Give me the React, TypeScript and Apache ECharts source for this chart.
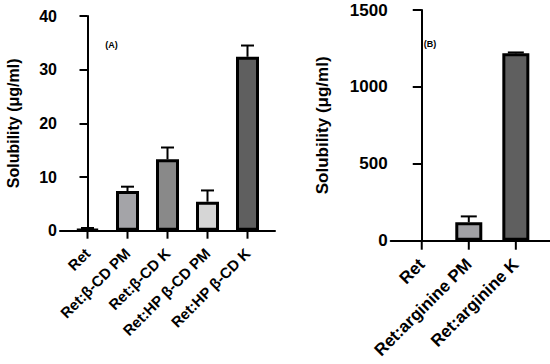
import React, { useEffect, useRef } from "react";
import * as echarts from "echarts";

const categoriesA = ["Ret", "Ret:β-CD PM", "Ret:β-CD K", "Ret:HP β-CD PM", "Ret:HP β-CD K"];
const valuesA = [0.3, 7.4, 13.3, 5.4, 32.4];
const errorsA = [0.2, 0.8, 2.2, 2.1, 2.1];
const colorsA = ["#8a8a8a", "#a4a4a8", "#898989", "#d6d6d6", "#5f5f5f"];

const categoriesB = ["Ret", "Ret:arginine PM", "Ret:arginine K"];
const valuesB = [0, 120, 1218];
const errorsB = [0, 38, 6];
const colorsB = ["#a0a0a0", "#a0a0a4", "#5f5f5f"];

const ticksA = [0, 10, 20, 30, 40];
const ticksB = [0, 500, 1000, 1500];

const FONT = "'Liberation Sans', Arial, Helvetica, sans-serif";

function errorRender(capHalf: number, tickLen: number) {
  return (params: any, api: any) => {
    const x = api.value(0);
    const v = api.value(1);
    const e = api.value(2);
    const style = { stroke: "#000", lineWidth: 2, fill: "none" };
    const base = api.coord([x, 0]);
    const children: any[] = [
      { type: "line", shape: { x1: base[0], y1: base[1], x2: base[0], y2: base[1] + tickLen }, style },
    ];
    if (e) {
      const p0 = api.coord([x, v]);
      const p1 = api.coord([x, v + e]);
      children.push(
        { type: "line", shape: { x1: p0[0], y1: p0[1], x2: p1[0], y2: p1[1] }, style },
        { type: "line", shape: { x1: p1[0] - capHalf, y1: p1[1], x2: p1[0] + capHalf, y2: p1[1] }, style }
      );
    }
    return { type: "group", children };
  };
}

export default function App() {
  const ref = useRef<HTMLDivElement>(null);
  useEffect(() => {
    if (!ref.current) return;
    const chart = echarts.init(ref.current, null, { renderer: "svg" });
    const idxA = categoriesA.map((_, i) => i);
    const idxB = categoriesB.map((_, i) => i);
    const axisLine = { show: true, lineStyle: { color: "#000", width: 2 } };
    const tickStyle = { color: "#000", width: 2 };
    chart.setOption({
      animation: false,
      backgroundColor: "#fff",
      grid: [
        { left: 60, top: 16, width: 215, height: 214.7 },
        { left: 390.7, top: 10, width: 159, height: 230.7 },
      ],
      xAxis: [
        {
          type: "value",
          gridIndex: 0,
          min: -0.6875,
          max: 4.6875,
          axisLine: { ...axisLine, onZero: false },
          splitLine: { show: false },
          axisTick: { show: false },
          axisLabel: {
            customValues: idxA,
            formatter: (v: number) => categoriesA[Math.round(v)] ?? "",
            rotate: 45,
            margin: 20,
            color: "#000",
            fontWeight: "bold",
            fontSize: 15,
            fontFamily: FONT,
          },
        },
        {
          type: "value",
          gridIndex: 1,
          min: -0.66,
          max: 2.72,
          axisLine: { ...axisLine, onZero: false },
          splitLine: { show: false },
          axisTick: { show: false },
          axisLabel: {
            customValues: idxB,
            formatter: (v: number) => categoriesB[Math.round(v)] ?? "",
            rotate: 45,
            margin: 21,
            color: "#000",
            fontWeight: "bold",
            fontSize: 17,
            fontFamily: FONT,
          },
        },
      ],
      yAxis: [
        {
          type: "value",
          gridIndex: 0,
          min: ticksA[0],
          max: ticksA[ticksA.length - 1],
          interval: 10,
          axisLine,
          splitLine: { show: false },
          axisTick: { show: true, length: 8, lineStyle: tickStyle },
          axisLabel: { margin: 3, color: "#000", fontWeight: "bold", fontSize: 16, fontFamily: FONT, formatter: (v: number) => String(v) },
          name: "Solubility (μg/ml)",
          nameLocation: "middle",
          nameGap: 39,
          nameTextStyle: { color: "#000", fontWeight: "bold", fontSize: 16, fontFamily: FONT },
        },
        {
          type: "value",
          gridIndex: 1,
          min: ticksB[0],
          max: ticksB[ticksB.length - 1],
          interval: 500,
          axisLine,
          splitLine: { show: false },
          axisTick: { show: true, length: 9, lineStyle: tickStyle },
          axisLabel: { margin: 3, color: "#000", fontWeight: "bold", fontSize: 17, fontFamily: FONT, formatter: (v: number) => String(v) },
          name: "Solubility (μg/ml)",
          nameLocation: "middle",
          nameGap: 60,
          nameTextStyle: { color: "#000", fontWeight: "bold", fontSize: 17, fontFamily: FONT },
        },
      ],
      series: [
        {
          type: "bar",
          xAxisIndex: 0,
          yAxisIndex: 0,
          barWidth: 23,
          data: valuesA.map((v, i) => ({ value: [i, v], itemStyle: { color: colorsA[i] } })),
          itemStyle: { borderColor: "#000", borderWidth: 3 },
          z: 2,
        },
        {
          type: "custom",
          xAxisIndex: 0,
          yAxisIndex: 0,
          clip: false,
          data: valuesA.map((v, i) => [i, v, errorsA[i]]),
          renderItem: errorRender(6.5, 8),
          z: 5,
        },
        {
          type: "bar",
          xAxisIndex: 1,
          yAxisIndex: 1,
          barWidth: 27,
          data: valuesB.map((v, i) => ({
            value: [i, v],
            itemStyle: { color: colorsB[i], borderWidth: v === 0 ? 0 : 3 },
          })),
          itemStyle: { borderColor: "#000", borderWidth: 3 },
          z: 2,
        },
        {
          type: "custom",
          xAxisIndex: 1,
          yAxisIndex: 1,
          clip: false,
          data: valuesB.map((v, i) => [i, v, errorsB[i]]),
          renderItem: errorRender(8, 9),
          z: 5,
        },
      ],
      graphic: [
        {
          type: "text",
          x: 111.5,
          y: 45,
          style: { text: "(A)", fill: "#000", font: "bold 9px " + FONT, align: "center", verticalAlign: "middle" },
        },
        {
          type: "text",
          x: 430,
          y: 44,
          style: { text: "(B)", fill: "#000", font: "bold 9px " + FONT, align: "center", verticalAlign: "middle" },
        },
      ],
    });
    return () => chart.dispose();
  }, []);
  return <div ref={ref} style={{ position: "fixed", left: 0, top: 0, width: 550, height: 364 }} />;
}
